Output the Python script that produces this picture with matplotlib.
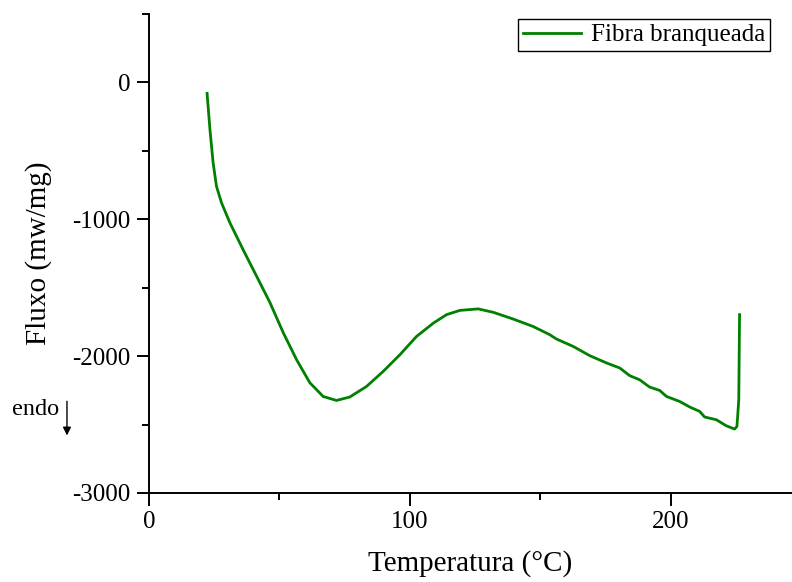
import matplotlib
matplotlib.use("Agg")
import matplotlib.pyplot as plt
from matplotlib.ticker import MultipleLocator

# DSC curve of bleached fibre
temperatura = [22.3, 23.4, 24.6, 25.9, 27.8, 31.0, 36.1, 41.3, 46.4, 51.5,
               56.6, 61.7, 66.8, 71.9, 77.0, 83.4, 89.8, 96.2, 102.6, 109.1,
               114.1, 119.2, 126.2, 132.0, 139.6, 147.2, 153.6, 156.2, 162.6, 169.0,
               175.4, 180.5, 184.3, 188.1, 191.9, 195.8, 198.4, 203.4, 207.3, 211.1,
               213.0, 217.5, 221.3, 224.5, 225.4, 226.1, 226.4]
fluxo = [-80, -344, -585, -759, -878, -1024, -1222, -1417, -1609, -1829,
         -2026, -2195, -2295, -2324, -2299, -2222, -2112, -1990, -1856, -1758,
         -1697, -1666, -1655, -1680, -1729, -1783, -1843, -1875, -1929, -1997,
         -2050, -2087, -2143, -2173, -2226, -2251, -2295, -2331, -2372, -2404,
         -2445, -2465, -2509, -2533, -2514, -2319, -1697]
serie_label = "Fibra branqueada"

plt.rcParams["font.family"] = ["Liberation Serif", "DejaVu Serif"]
plt.rcParams["axes.unicode_minus"] = False

fig = plt.figure(figsize=(7.92, 5.82), dpi=100)
ax = fig.add_axes([0.188, 0.153, 0.812, 0.823])

ax.plot(temperatura, fluxo, color="#008000", lw=2.0, label=serie_label)

ax.set_xlim(0, 246.5)
ax.set_ylim(-3000, 500)
ax.xaxis.set_major_locator(MultipleLocator(100))
ax.xaxis.set_minor_locator(MultipleLocator(50))
ax.yaxis.set_major_locator(MultipleLocator(1000))
ax.yaxis.set_minor_locator(MultipleLocator(500))

for side in ["top", "right"]:
    ax.spines[side].set_visible(False)
for side in ["left", "bottom"]:
    ax.spines[side].set_linewidth(1.4)

ax.tick_params(which="major", direction="out", length=9, width=1.4, labelsize=18, pad=4)
ax.tick_params(which="minor", direction="out", length=5, width=1.4)

ax.set_xlabel("Temperatura (°C)", fontsize=21, labelpad=12)
ax.set_ylabel("Fluxo (mw/mg)", fontsize=21, labelpad=15)

leg = ax.legend(loc="upper right", bbox_to_anchor=(0.966, 0.99), borderaxespad=0,
                fontsize=18, fancybox=False, framealpha=1, edgecolor="black",
                handlelength=2.3, handletextpad=0.4, borderpad=0.2)
leg.get_frame().set_linewidth(1.0)

# endotherm direction marker
ax.text(-43.5, -2390, "endo", fontsize=17.5, ha="center", va="center", clip_on=False)
ax.annotate("", xy=(-31.4, -2600), xytext=(-31.4, -2310),
            arrowprops=dict(arrowstyle="-|>", color="black", lw=1.0, mutation_scale=12),
            annotation_clip=False)

fig.savefig("out.png", dpi=100)
